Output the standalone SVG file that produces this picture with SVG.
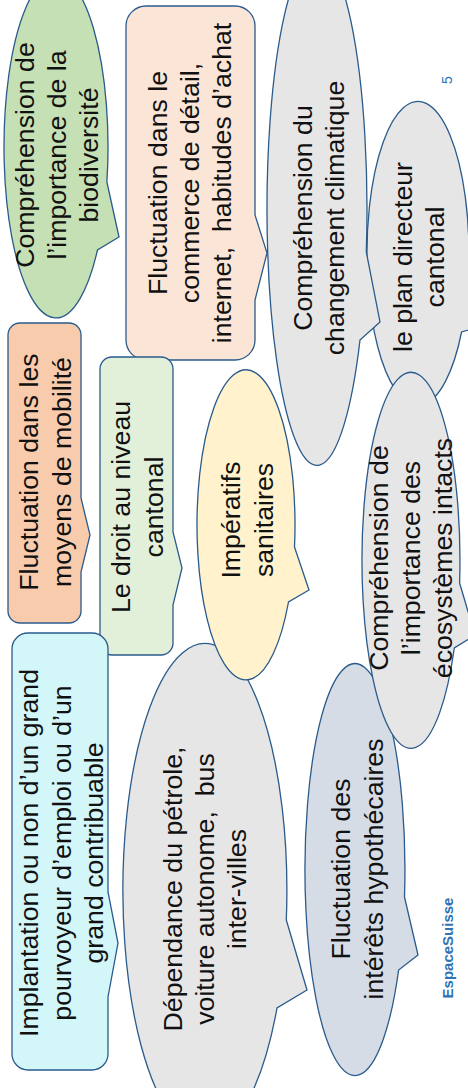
<svg xmlns="http://www.w3.org/2000/svg" width="468" height="1088" viewBox="0 0 468 1088">
<style>
.s{stroke:#2A5B8C;stroke-width:1.3;stroke-linejoin:miter}
.t{font-family:"Liberation Sans",Arial,sans-serif;font-size:26.7px;fill:#111;text-anchor:middle}
.green{fill:#C5E0B4}.peach{fill:#FBE5D6}.salmon{fill:#F8CBAD}.lgreen{fill:#E2F0D9}
.cyan{fill:#D3F6F9}.yellow{fill:#FFF2CC}.gray{fill:#E7E6E6}.bgray{fill:#D6DCE5}
.brand{font-family:"Liberation Sans",Arial,sans-serif;fill:#2E74B5;text-anchor:middle}
</style>
<rect width="468" height="1088" fill="#fff"/>
<g id="connectors"></g>
<g id="n-biodiversite">
<path class="s green" d="M106.9,182 L119,237 L97.5,250 A52,171 0 1 1 106.9,182 Z"/>
<text class="t" transform="translate(34,155) rotate(-90)"><tspan x="0" y="0">Compréhension de</tspan><tspan x="0" y="32">l’importance de la</tspan><tspan x="0" y="64">biodiversité</tspan></text>
</g>
<g id="n-commerce">
<path class="s peach" d="M146,6 H235 A20,20 0 0 1 255,26 V215 L267,253 L255,300 V340 A20,20 0 0 1 235,360 H146 A20,20 0 0 1 126,340 V26 A20,20 0 0 1 146,6 Z"/>
<text class="t" transform="translate(167,183) rotate(-90)"><tspan x="0" y="0">Fluctuation dans le</tspan><tspan x="0" y="32">commerce de détail,</tspan><tspan x="0" y="64">internet,&#160; habitudes d’achat</tspan></text>
</g>
<g id="n-plan">
<path class="s gray" d="M468.8,265 L510,318 L461.6,332 A51,152 0 1 1 468.8,265 Z"/>
<text class="t" transform="translate(412,257) rotate(-90)"><tspan x="0" y="0">le plan directeur</tspan><tspan x="0" y="32">cantonal</tspan></text>
</g>
<g id="n-climat">
<path class="s gray" d="M366.3,252 L380,322 L360,340 A50,256 0 1 1 366.3,252 Z"/>
<text class="t" transform="translate(312,218) rotate(-90)"><tspan x="0" y="0">Compréhension du</tspan><tspan x="0" y="32">changement climatique</tspan></text>
</g>
<g id="n-mobilite">
<path class="s salmon" d="M20,323 H69 A12,12 0 0 1 81,335 V498 L90,535 L81,572 V611 A12,12 0 0 1 69,623 H20 A12,12 0 0 1 8,611 V335 A12,12 0 0 1 20,323 Z"/>
<text class="t" transform="translate(38,472) rotate(-90)"><tspan x="0" y="0">Fluctuation dans les</tspan><tspan x="0" y="33">moyens de mobilité</tspan></text>
</g>
<g id="n-droit">
<path class="s lgreen" d="M112,357 H161 A12,12 0 0 1 173,369 V532 L182,568 L173,605 V643 A12,12 0 0 1 161,655 H112 A12,12 0 0 1 100,643 V369 A12,12 0 0 1 112,357 Z"/>
<text class="t" transform="translate(130,507) rotate(-90)"><tspan x="0" y="0">Le droit au niveau</tspan><tspan x="0" y="33">cantonal</tspan></text>
</g>
<g id="n-implantation">
<path class="s cyan" d="M28,633 H92 A16,16 0 0 1 108,649 V892 L118,943 L108,997 V1054 A16,16 0 0 1 92,1070 H28 A16,16 0 0 1 12,1054 V649 A16,16 0 0 1 28,633 Z"/>
<text class="t" transform="translate(38,853) rotate(-90)"><tspan x="0" y="0">Implantation ou non d’un grand</tspan><tspan x="0" y="32.5">pourvoyeur d’emploi ou d’un</tspan><tspan x="0" y="65">grand contribuable</tspan></text>
</g>
<g id="n-petrole">
<path class="s gray" d="M286.3,920 L307,990 L277,1008 A82,247 0 1 1 286.3,920 Z"/>
<text class="t" transform="translate(182,889) rotate(-90)"><tspan x="0" y="0">Dépendance du pétrole,</tspan><tspan x="0" y="32">voiture autonome,&#160; bus</tspan><tspan x="0" y="64">inter-villes</tspan></text>
</g>
<g id="n-sanitaires">
<path class="s yellow" d="M294.5,547 L309,590 L288.5,602 A49,155 0 1 1 294.5,547 Z"/>
<text class="t" transform="translate(240,520) rotate(-90)"><tspan x="0" y="0">Impératifs</tspan><tspan x="0" y="33">sanitaires</tspan></text>
</g>
<g id="n-hypothecaires">
<path class="s bgray" d="M404.5,897 L418,955 L398.6,970 A50,206 0 1 1 404.5,897 Z"/>
<text class="t" transform="translate(350,869) rotate(-90)"><tspan x="0" y="0">Fluctuation des</tspan><tspan x="0" y="33">intérêts hypothécaires</tspan></text>
</g>
<g id="n-ecosystemes">
<path class="s gray" d="M459.6,583 L475,635 L454.3,648 A49,188 0 1 1 459.6,583 Z"/>
<text class="t" transform="translate(388,558) rotate(-90)"><tspan x="0" y="0">Compréhension de</tspan><tspan x="0" y="32">l’importance des</tspan><tspan x="0" y="64">écosystèmes intacts</tspan></text>
</g>
<g id="labels">
<text class="brand" font-size="15" font-weight="bold" transform="translate(453,948) rotate(-90)">EspaceSuisse</text>
<text class="brand" font-size="14" transform="translate(452,80) rotate(-90)">5</text>
</g>
</svg>
